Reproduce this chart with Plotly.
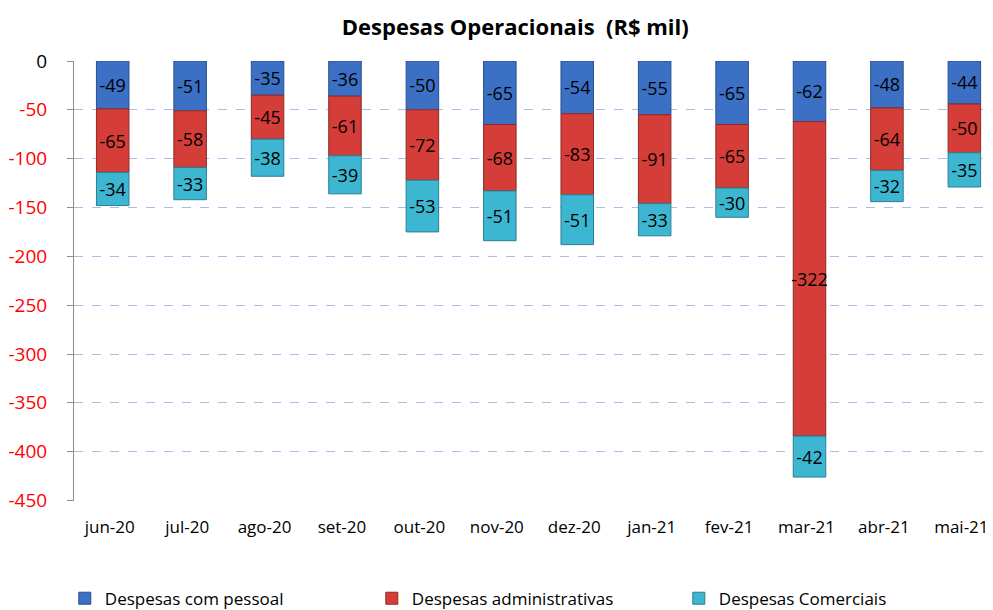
import plotly.graph_objects as go

categories = ["jun-20", "jul-20", "ago-20", "set-20", "out-20", "nov-20",
              "dez-20", "jan-21", "fev-21", "mar-21", "abr-21", "mai-21"]
pessoal = [-49, -51, -35, -36, -50, -65, -54, -55, -65, -62, -48, -44]
administrativas = [-65, -58, -45, -61, -72, -68, -83, -91, -65, -322, -64, -50]
comerciais = [-34, -33, -38, -39, -53, -51, -51, -33, -30, -42, -32, -35]

series = [
    ("Despesas com pessoal", pessoal, "#3C70C4", "#2A4F8E"),
    ("Despesas administrativas", administrativas, "#D43D38", "#8E2A27"),
    ("Despesas Comerciais", comerciais, "#3DB7D1", "#2A7F93"),
]

FONT = "Open Sans"
fig = go.Figure()
for name, vals, col, edge in series:
    fig.add_trace(go.Bar(
        name=name, x=categories, y=vals, width=0.42,
        marker=dict(color=col, line=dict(color=edge, width=1)),
        text=[str(v) for v in vals], texttemplate="%{text}", textposition="inside",
        insidetextanchor="middle", textangle=0, constraintext="none",
        insidetextfont=dict(family=FONT, size=18, color="black"),
    ))

yticks = list(range(0, -451, -50))
yticktext = ["<span style='color:black'>0</span>"] + [str(v) for v in yticks[1:]]

# page body has an 8px margin, so the figure is sized/offset accordingly
fig.update_layout(
    barmode="relative",
    width=985, height=602,
    margin=dict(l=66, r=0, t=53, b=109, autoexpand=False),
    paper_bgcolor="white", plot_bgcolor="white",
    font=dict(family=FONT, size=18, color="black"),
    title=dict(text="<b>Despesas Operacionais  (R$ mil)</b>", x=0.515, xanchor="center",
               y=0.968, yanchor="middle", font=dict(family=FONT, size=22, color="black")),
    xaxis=dict(range=[-0.5, 11.37], showline=False, showgrid=False, ticks="",
               tickfont=dict(family=FONT, size=17, color="black"), ticklabelshift=-3,
               ticklabelstandoff=14),
    xaxis2=dict(overlaying="x", side="top", range=[-0.5, 11.37], showline=True,
                linecolor="#8C8C8C", linewidth=1, ticks="outside", ticklen=5,
                tickcolor="#8C8C8C", tickvals=[i + 0.5 for i in range(11)],
                showticklabels=False, showgrid=False, zeroline=False),
    yaxis=dict(range=[-450.5, 0], tickvals=yticks, ticktext=yticktext,
               tickfont=dict(family=FONT, size=19, color="red"),
               showline=True, linecolor="#8C8C8C", linewidth=1,
               ticks="outside", ticklen=6, tickcolor="#8C8C8C", ticklabelstandoff=16,
               showgrid=True, gridcolor="#A7BDEB", griddash="dash", gridwidth=1,
               zeroline=False),
    legend=dict(orientation="h", x=-0.01, xanchor="left", y=-0.222, yanchor="middle",
                font=dict(family=FONT, size=17, color="black"),
                entrywidth=262, entrywidthmode="pixels", itemwidth=30,
                bgcolor="rgba(0,0,0,0)"),
    showlegend=True,
)
fig.write_html("out.html")
